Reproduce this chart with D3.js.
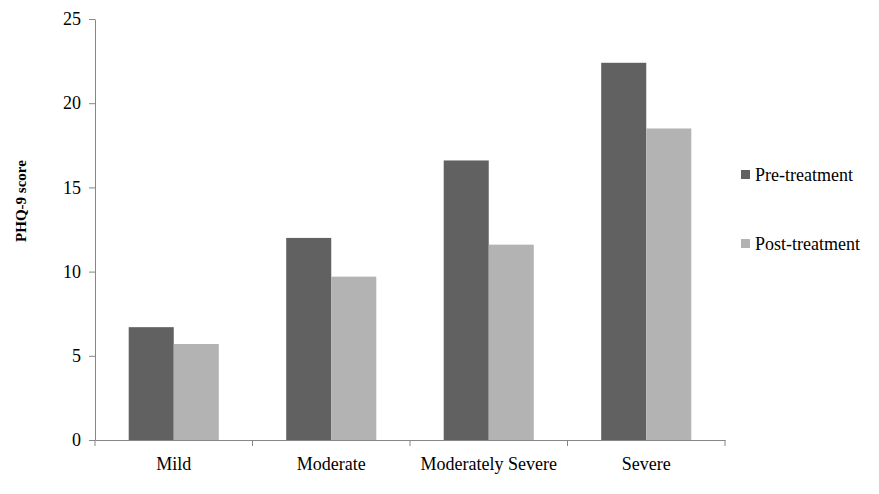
<!DOCTYPE html>
<html>
<head>
<meta charset="utf-8">
<script src="https://cdn.jsdelivr.net/npm/d3@7"></script>
<style>
  body { margin: 0; background: #fff; }
</style>
</head>
<body>
<div id="chart"></div>
<script>
const categories = ['Mild', 'Moderate', 'Moderately Severe', 'Severe'];
const seriesNames = ['Pre-treatment', 'Post-treatment'];
const preValues = [6.7, 12.0, 16.6, 22.4];
const postValues = [5.7, 9.7, 11.6, 18.5];
const yTicks = [0, 5, 10, 15, 20, 25];
const colors = ['#616161', '#b3b3b3'];

const serif = '"Liberation Serif", "Times New Roman", Times, serif';

let width = 879,
    height = 494,
    margin = {left: 95, top: 19, right: 154, bottom: 54},
    plotW = width - margin.left - margin.right,
    plotH = height - margin.top - margin.bottom;

let svg = d3.select('#chart').append('svg')
    .attr('width', width)
    .attr('height', height);

let g = svg.append('g')
    .attr('transform', `translate(${margin.left}, ${margin.top})`);

let x0 = d3.scaleBand()
    .domain(categories)
    .range([0, plotW])
    .padding(0);

let bw = x0.bandwidth();
let x1 = d3.scaleBand()
    .domain(seriesNames)
    .range([bw * 0.214, bw * 0.786])
    .padding(0);

let y = d3.scaleLinear()
    .domain([0, 25])
    .range([plotH, 0]);

let rows = categories.map((c, i) => ({
    cat: c,
    vals: [preValues[i], postValues[i]].map((v, j) => ({key: seriesNames[j], value: v, color: colors[j]}))
}));

// bars
g.append('g').selectAll('g')
    .data(rows)
    .join('g')
    .attr('transform', d => `translate(${x0(d.cat)}, 0)`)
    .selectAll('rect')
    .data(d => d.vals)
    .join('rect')
    .attr('x', d => x1(d.key))
    .attr('width', x1.bandwidth())
    .attr('y', d => y(d.value))
    .attr('height', d => plotH - y(d.value))
    .attr('fill', d => d.color);

// y axis
let yAxis = g.append('g')
    .call(d3.axisLeft(y).tickValues(yTicks).tickSize(6).tickSizeOuter(0).tickPadding(8));
yAxis.attr('font-family', null).attr('font-size', null);
yAxis.selectAll('line, path').attr('stroke', '#878787');
yAxis.selectAll('text').style('font-family', serif).style('font-size', '18px').attr('fill', '#000');

// x axis
let xAxis = g.append('g')
    .attr('transform', `translate(0, ${plotH})`)
    .call(d3.axisBottom(x0).tickSize(0).tickSizeOuter(0).tickPadding(17));
xAxis.attr('font-family', null).attr('font-size', null);
xAxis.select('path').attr('stroke', '#878787');
xAxis.selectAll('text').style('font-family', serif).style('font-size', '18px').attr('fill', '#000');

// category boundary ticks
let bounds = categories.map(c => x0(c)).concat([plotW]);
xAxis.selectAll('.bound')
    .data(bounds)
    .join('line')
    .attr('class', 'bound')
    .attr('x1', d => d).attr('x2', d => d)
    .attr('y1', 0).attr('y2', 6)
    .attr('stroke', '#878787');

// y label
svg.append('text')
    .attr('transform', 'translate(26, 201) rotate(-90)')
    .attr('text-anchor', 'middle')
    .style('font-family', serif)
    .style('font-size', '15px')
    .style('font-weight', 'bold')
    .text('PHQ-9 score');

// legend
let legend = svg.append('g')
    .selectAll('g')
    .data(seriesNames)
    .join('g')
    .attr('transform', (d, i) => `translate(741, ${170 + i * 69})`);

legend.append('rect')
    .attr('width', 9)
    .attr('height', 9)
    .attr('fill', (d, i) => colors[i]);

legend.append('text')
    .attr('x', 14)
    .attr('y', 4.5)
    .attr('dy', '0.35em')
    .style('font-family', serif)
    .style('font-size', '18px')
    .text(d => d);
</script>
</body>
</html>
